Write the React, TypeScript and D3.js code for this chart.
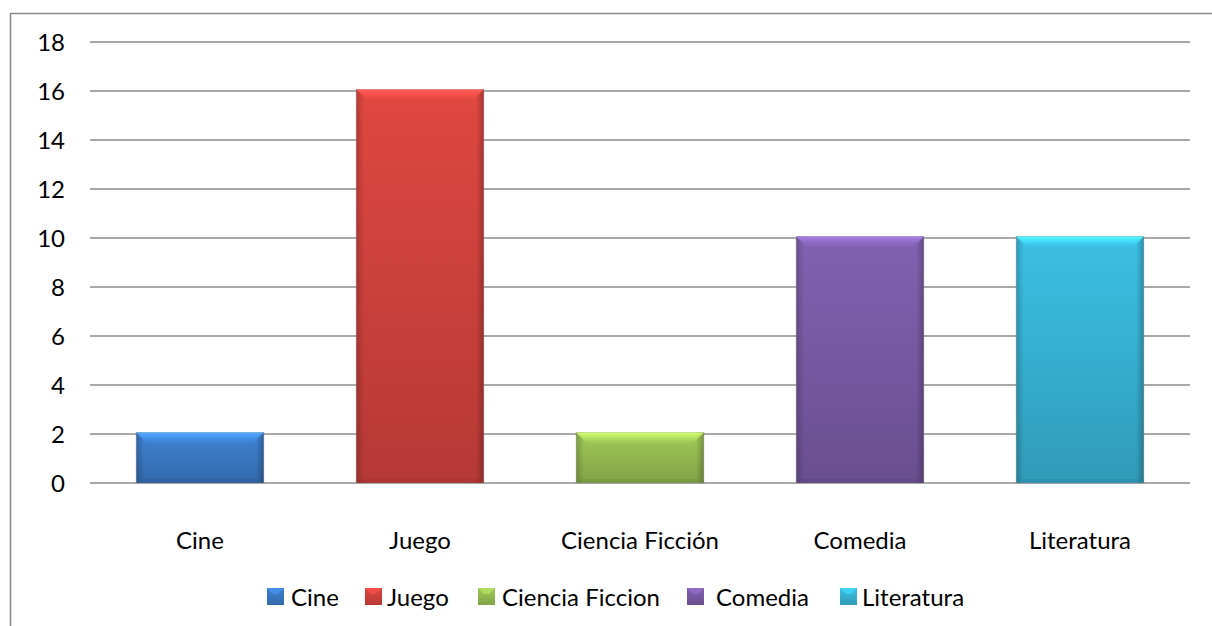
import React from "react";
import * as d3 from "d3";

const categories = ["Cine", "Juego", "Ciencia Ficción", "Comedia", "Literatura"];
const legendLabels = ["Cine", "Juego", "Ciencia Ficcion", "Comedia", "Literatura"];
const values = [2, 16, 2, 10, 10];
const yTicks = [0, 2, 4, 6, 8, 10, 12, 14, 16, 18];
const baseColors = ["#3c7bc8", "#d4433e", "#98bf52", "#7b5ca8", "#38b6d8"];
const legendX = [267, 365, 478, 687, 840];
const legendTextX = [291, 387, 502, 716, 862];

const W = 1212, H = 626;
const FONT = "Lato, 'Open Sans', sans-serif";

export default function App() {
  const x = d3.scaleBand<string>().domain(categories).range([90, 1190]).paddingInner(0.42).paddingOuter(0.21);
  const y = d3.scaleLinear().domain([0, 18]).range([483, 42]);

  return (
    <svg width={W} height={H} style={{ position: "absolute", left: 0, top: 0, background: "#fff" }}>
      <defs>
        {baseColors.map((c, i) => {
          const col = d3.color(c)!;
          return (
            <linearGradient key={i} id={`g${i}`} x1="0" y1="0" x2="0" y2="1">
              <stop offset="0" stopColor={d3.color(c)!.brighter(0.15).formatHex()} />
              <stop offset="1" stopColor={col.darker(0.45).formatHex()} />
            </linearGradient>
          );
        })}
        {baseColors.map((c, i) => {
          const col = d3.color(c)!;
          return (
            <linearGradient key={"b" + i} id={`b${i}`} x1="0" y1="0" x2="0" y2="1">
              <stop offset="0" stopColor={col.brighter(1.0).formatHex()} stopOpacity="0.95" />
              <stop offset="0.5" stopColor={col.brighter(0.6).formatHex()} stopOpacity="0.7" />
              <stop offset="1" stopColor={col.brighter(0.2).formatHex()} stopOpacity="0.35" />
            </linearGradient>
          );
        })}
        <linearGradient id="hside" x1="0" y1="0" x2="1" y2="0">
          <stop offset="0" stopColor="#000" stopOpacity="0.2" />
          <stop offset="0.06" stopColor="#000" stopOpacity="0" />
          <stop offset="0.94" stopColor="#000" stopOpacity="0" />
          <stop offset="1" stopColor="#000" stopOpacity="0.25" />
        </linearGradient>
      </defs>
      <rect x={0} y={0} width={W} height={H} fill="#fff" />
      {/* chart border */}
      <path d={`M10.5,${H} V13.5 H${W}`} fill="none" stroke="#8a8a8a" strokeWidth={1.5} />
      {/* gridlines */}
      {yTicks.map((t) => (
        <line key={t} x1={90} x2={1190} y1={y(t)} y2={y(t)} stroke="#8c8c8c" strokeWidth={1.6} />
      ))}
      {/* y tick labels */}
      {yTicks.map((t) => (
        <text key={"l" + t} x={65} y={y(t)} dy="0.36em" textAnchor="end" fontFamily={FONT} fontSize={24} fill="#000">
          {t}
        </text>
      ))}
      {/* bars */}
      {categories.map((c, i) => {
        const bx = x(c)!;
        const bw = x.bandwidth();
        const by = y(values[i]) - 1.5;
        const bh = y(0) - by;
        const b = Math.min(11, bh / 2);
        const col = d3.color(baseColors[i])!;
        return (
          <g key={c}>
            <rect x={bx} y={by} width={bw} height={bh} fill={`url(#g${i})`} stroke="#9a9a9a" strokeOpacity={0.5} strokeWidth={1} />
            <rect x={bx} y={by} width={bw} height={bh} fill="url(#hside)" />
            <polygon
              points={`${bx},${by} ${bx + bw},${by} ${bx + bw - b},${by + b} ${bx + b},${by + b}`}
              fill={`url(#b${i})`}
            />
            <polygon
              points={`${bx},${by + bh} ${bx + bw},${by + bh} ${bx + bw - 4},${by + bh - 4} ${bx + 4},${by + bh - 4}`}
              fill={col.darker(0.8).formatHex()}
              opacity={0.5}
            />
          </g>
        );
      })}
      {/* category labels */}
      {categories.map((c) => (
        <text key={"c" + c} x={x(c)! + x.bandwidth() / 2} y={540} dy="0.36em" textAnchor="middle" fontFamily={FONT} fontSize={24} fill="#000">
          {c}
        </text>
      ))}
      {/* legend */}
      {legendLabels.map((l, i) => {
        const col = d3.color(baseColors[i])!;
        return (
          <g key={"lg" + l}>
            <rect x={legendX[i]} y={588} width={17} height={17} fill={`url(#g${i})`} />
            <polygon
              points={`${legendX[i]},${588} ${legendX[i] + 17},588 ${legendX[i] + 11},594 ${legendX[i] + 6},594`}
              fill={col.brighter(0.6).formatHex()}
              opacity={0.6}
            />
            <text x={legendTextX[i]} y={597} dy="0.36em" fontFamily={FONT} fontSize={24} fill="#000">
              {l}
            </text>
          </g>
        );
      })}
    </svg>
  );
}
